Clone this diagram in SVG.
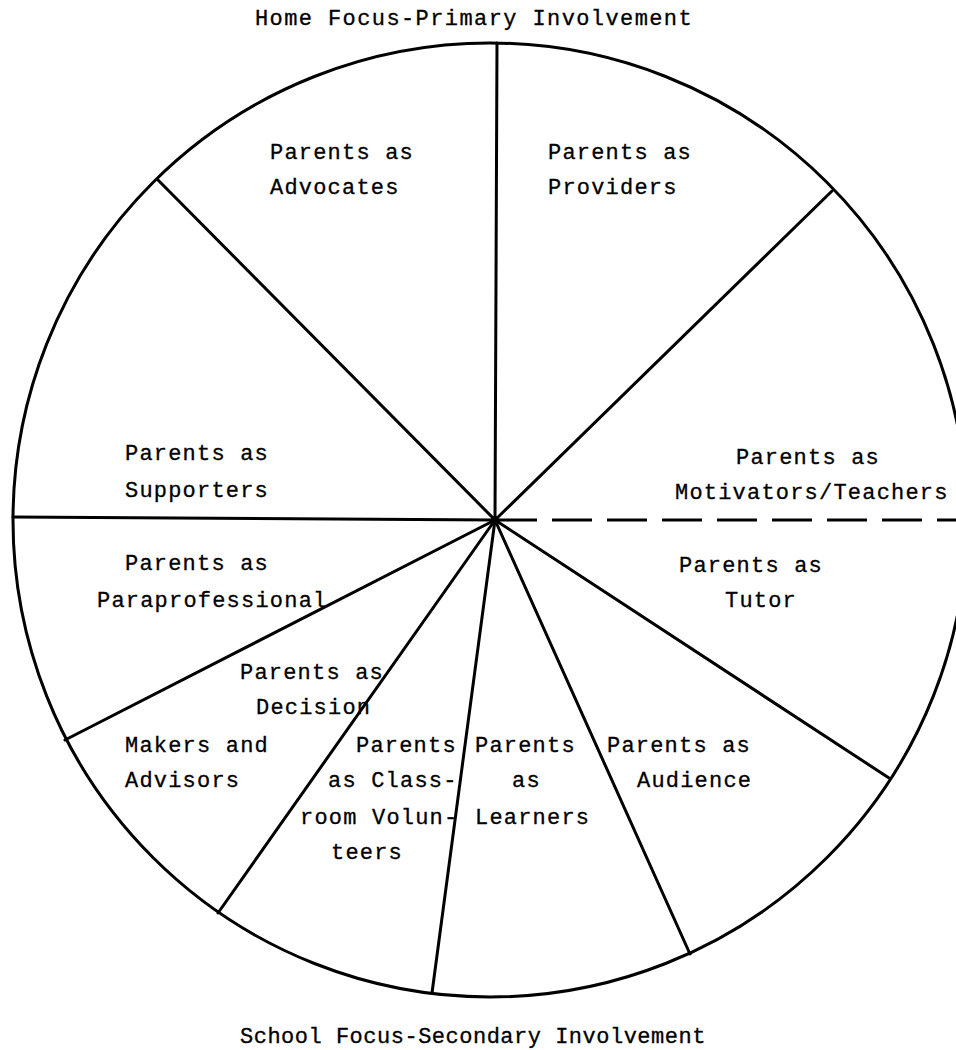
<svg xmlns="http://www.w3.org/2000/svg" width="956" height="1050" viewBox="0 0 956 1050">
<style>
  .ln { stroke: #000; stroke-width: 3; fill: none; stroke-linecap: round; }
  .dash { stroke: #000; stroke-width: 3; fill: none; stroke-dasharray: 40 15; }
  .t { font-family: "Liberation Mono", "Courier New", monospace; font-size: 22px; letter-spacing: 1.2px; fill: #000; stroke: #000; stroke-width: 0.3; }
  .h { font-family: "Liberation Mono", "Courier New", monospace; font-size: 22px; letter-spacing: 1.4px; fill: #000; stroke: #000; stroke-width: 0.3; }
  .h2 { font-family: "Liberation Mono", "Courier New", monospace; font-size: 22px; letter-spacing: 0.5px; fill: #000; stroke: #000; stroke-width: 0.3; }
</style>
<rect width="956" height="1050" fill="#fff"/>
<g id="circle">
  <circle class="ln" cx="490" cy="520" r="477"/>
</g>
<g id="connectors">
  <line class="ln" x1="495" y1="520" x2="497" y2="43"/>
  <line class="ln" x1="495" y1="520" x2="158" y2="180"/>
  <line class="ln" x1="495" y1="520" x2="832" y2="191"/>
  <line class="ln" x1="495" y1="520" x2="13" y2="517"/>
  <line class="dash" x1="497" y1="520" x2="956" y2="520"/>
  <line class="ln" x1="495" y1="520" x2="65" y2="740"/>
  <line class="ln" x1="495" y1="520" x2="218" y2="913"/>
  <line class="ln" x1="495" y1="520" x2="432" y2="993"/>
  <line class="ln" x1="495" y1="520" x2="690" y2="954"/>
  <line class="ln" x1="495" y1="520" x2="889" y2="778"/>
  <circle cx="495" cy="520" r="4" fill="#000"/>
</g>
<g id="title-top"><text class="h" x="255" y="25">Home Focus-Primary Involvement</text></g>
<g id="title-bottom"><text class="h2" x="240" y="1043">School Focus-Secondary Involvement</text></g>
<g id="advocates"><text class="t" x="270" y="159">Parents as</text><text class="t" x="270" y="194">Advocates</text></g>
<g id="providers"><text class="t" x="548" y="159">Parents as</text><text class="t" x="548" y="194">Providers</text></g>
<g id="supporters"><text class="t" x="125" y="460">Parents as</text><text class="t" x="125" y="497">Supporters</text></g>
<g id="motivators"><text class="t" x="736" y="464">Parents as</text><text class="t" x="675" y="499">Motivators/Teachers</text></g>
<g id="tutor"><text class="t" x="679" y="572">Parents as</text><text class="t" x="725" y="607">Tutor</text></g>
<g id="paraprofessional"><text class="t" x="125" y="570">Parents as</text><text class="t" x="97" y="607">Paraprofessional</text></g>
<g id="decision"><text class="t" x="240" y="679">Parents as</text><text class="t" x="256" y="714">Decision</text><text class="t" x="125" y="752">Makers and</text><text class="t" x="125" y="787">Advisors</text></g>
<g id="volunteers"><text class="t" x="356" y="752">Parents</text><text class="t" x="328" y="787">as Class-</text><text class="t" x="300" y="824">room Volun-</text><text class="t" x="331" y="859">teers</text></g>
<g id="learners"><text class="t" x="475" y="752">Parents</text><text class="t" x="512" y="787">as</text><text class="t" x="475" y="824">Learners</text></g>
<g id="audience"><text class="t" x="607" y="752">Parents as</text><text class="t" x="637" y="787">Audience</text></g>
</svg>
